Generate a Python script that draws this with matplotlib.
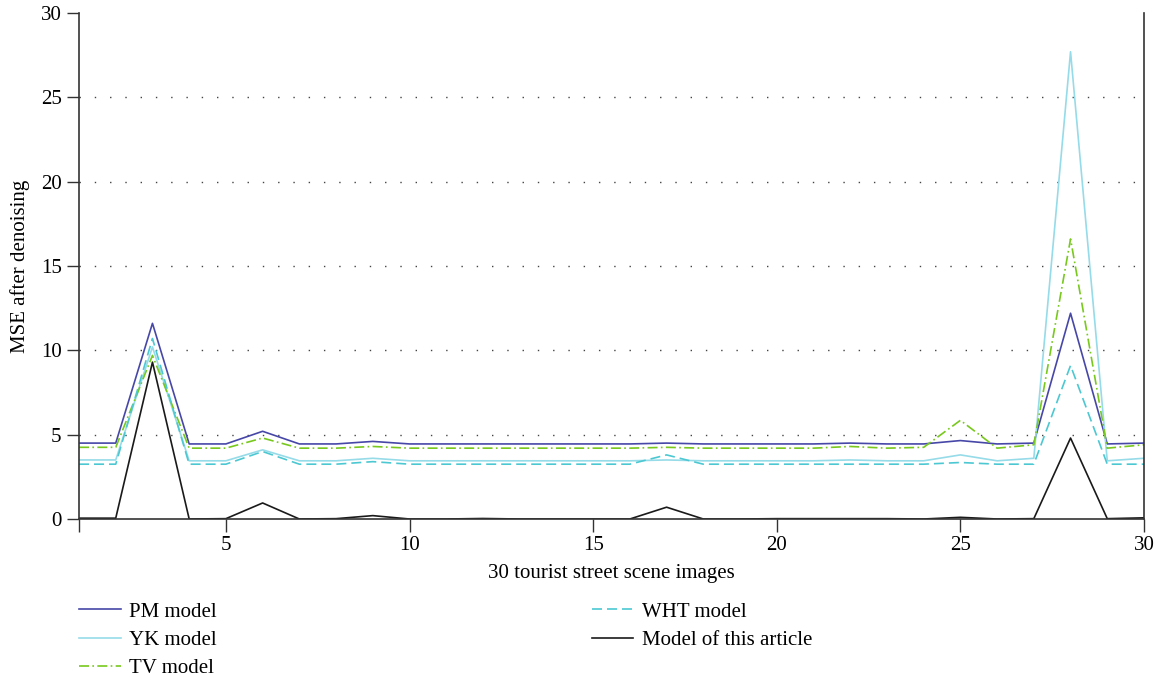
import numpy as np
import matplotlib.pyplot as plt

plt.rcParams['font.family'] = ['Liberation Serif', 'DejaVu Serif']

# data
images = np.arange(1, 31)
pm = [4.5, 4.5, 11.6, 4.45, 4.45, 5.2, 4.45, 4.45, 4.6, 4.45,
      4.45, 4.45, 4.45, 4.45, 4.45, 4.45, 4.5, 4.45, 4.45, 4.45,
      4.45, 4.5, 4.45, 4.45, 4.65, 4.45, 4.5, 12.2, 4.45, 4.5]
yk = [3.5, 3.5, 10.2, 3.45, 3.45, 4.1, 3.45, 3.45, 3.6, 3.45,
      3.45, 3.45, 3.45, 3.45, 3.45, 3.45, 3.5, 3.45, 3.45, 3.45,
      3.45, 3.5, 3.45, 3.45, 3.8, 3.45, 3.6, 27.7, 3.45, 3.6]
tv = [4.25, 4.25, 9.7, 4.2, 4.2, 4.8, 4.2, 4.2, 4.3, 4.2,
      4.2, 4.2, 4.2, 4.2, 4.2, 4.2, 4.25, 4.2, 4.2, 4.2,
      4.2, 4.3, 4.2, 4.25, 5.85, 4.2, 4.4, 16.6, 4.2, 4.4]
wht = [3.25, 3.25, 10.7, 3.25, 3.25, 4.0, 3.25, 3.25, 3.4, 3.25,
       3.25, 3.25, 3.25, 3.25, 3.25, 3.25, 3.8, 3.25, 3.25, 3.25,
       3.25, 3.25, 3.25, 3.25, 3.35, 3.25, 3.25, 9.1, 3.25, 3.25]
ours = [0.05, 0.05, 9.3, 0.0, 0.02, 0.95, 0.0, 0.02, 0.2, 0.0,
        0.0, 0.03, 0.0, 0.0, 0.0, 0.0, 0.7, 0.0, 0.0, 0.02,
        0.02, 0.02, 0.02, 0.0, 0.1, 0.0, 0.02, 4.8, 0.02, 0.07]

fig = plt.figure(figsize=(11.62, 6.82), dpi=100)
ax = fig.add_axes([0.068, 0.239, 0.9165, 0.742])

ax.plot(images, pm, color='#4747a8', lw=1.2, label='PM model')
ax.plot(images, yk, color='#96dbe8', lw=1.2, label='YK model')
ax.plot(images, tv, color='#78c81e', lw=1.2, linestyle=(0, (6, 2, 1, 2)), label='TV model')
ax.plot(images, wht, color='#4cc8d2', lw=1.2, linestyle=(0, (6, 3)), label='WHT model')
ax.plot(images, ours, color='#1a1a1a', lw=1.2, label='Model of this article')

ax.set_xlim(1, 30)
ax.set_ylim(0, 30)
ax.set_xticks([1, 5, 10, 15, 20, 25, 30])
ax.set_xticklabels(['', '5', '10', '15', '20', '25', '30'])
ax.set_yticks([0, 5, 10, 15, 20, 25, 30])
ax.tick_params(labelsize=15, length=9, width=1, color='#333333')
for y in [5, 10, 15, 20, 25]:
    ax.axhline(y, color='#444444', lw=1, linestyle=(0, (1, 10)), zorder=0)
ax.spines['top'].set_visible(False)
for s in ['left', 'right', 'bottom']:
    ax.spines[s].set_color('#333333')
    ax.spines[s].set_linewidth(1.2)

ax.set_xlabel('30 tourist street scene images', fontsize=15, labelpad=6)
ax.set_ylabel('MSE after denoising', fontsize=15, labelpad=8)

ax.legend(loc='upper left', bbox_to_anchor=(0.0, -0.164), ncol=2, frameon=False,
          fontsize=15, columnspacing=18.0, handlelength=2.0, labelspacing=0.42,
          handletextpad=0.4, borderpad=0, borderaxespad=0)

fig.savefig('out.png', dpi=100)
